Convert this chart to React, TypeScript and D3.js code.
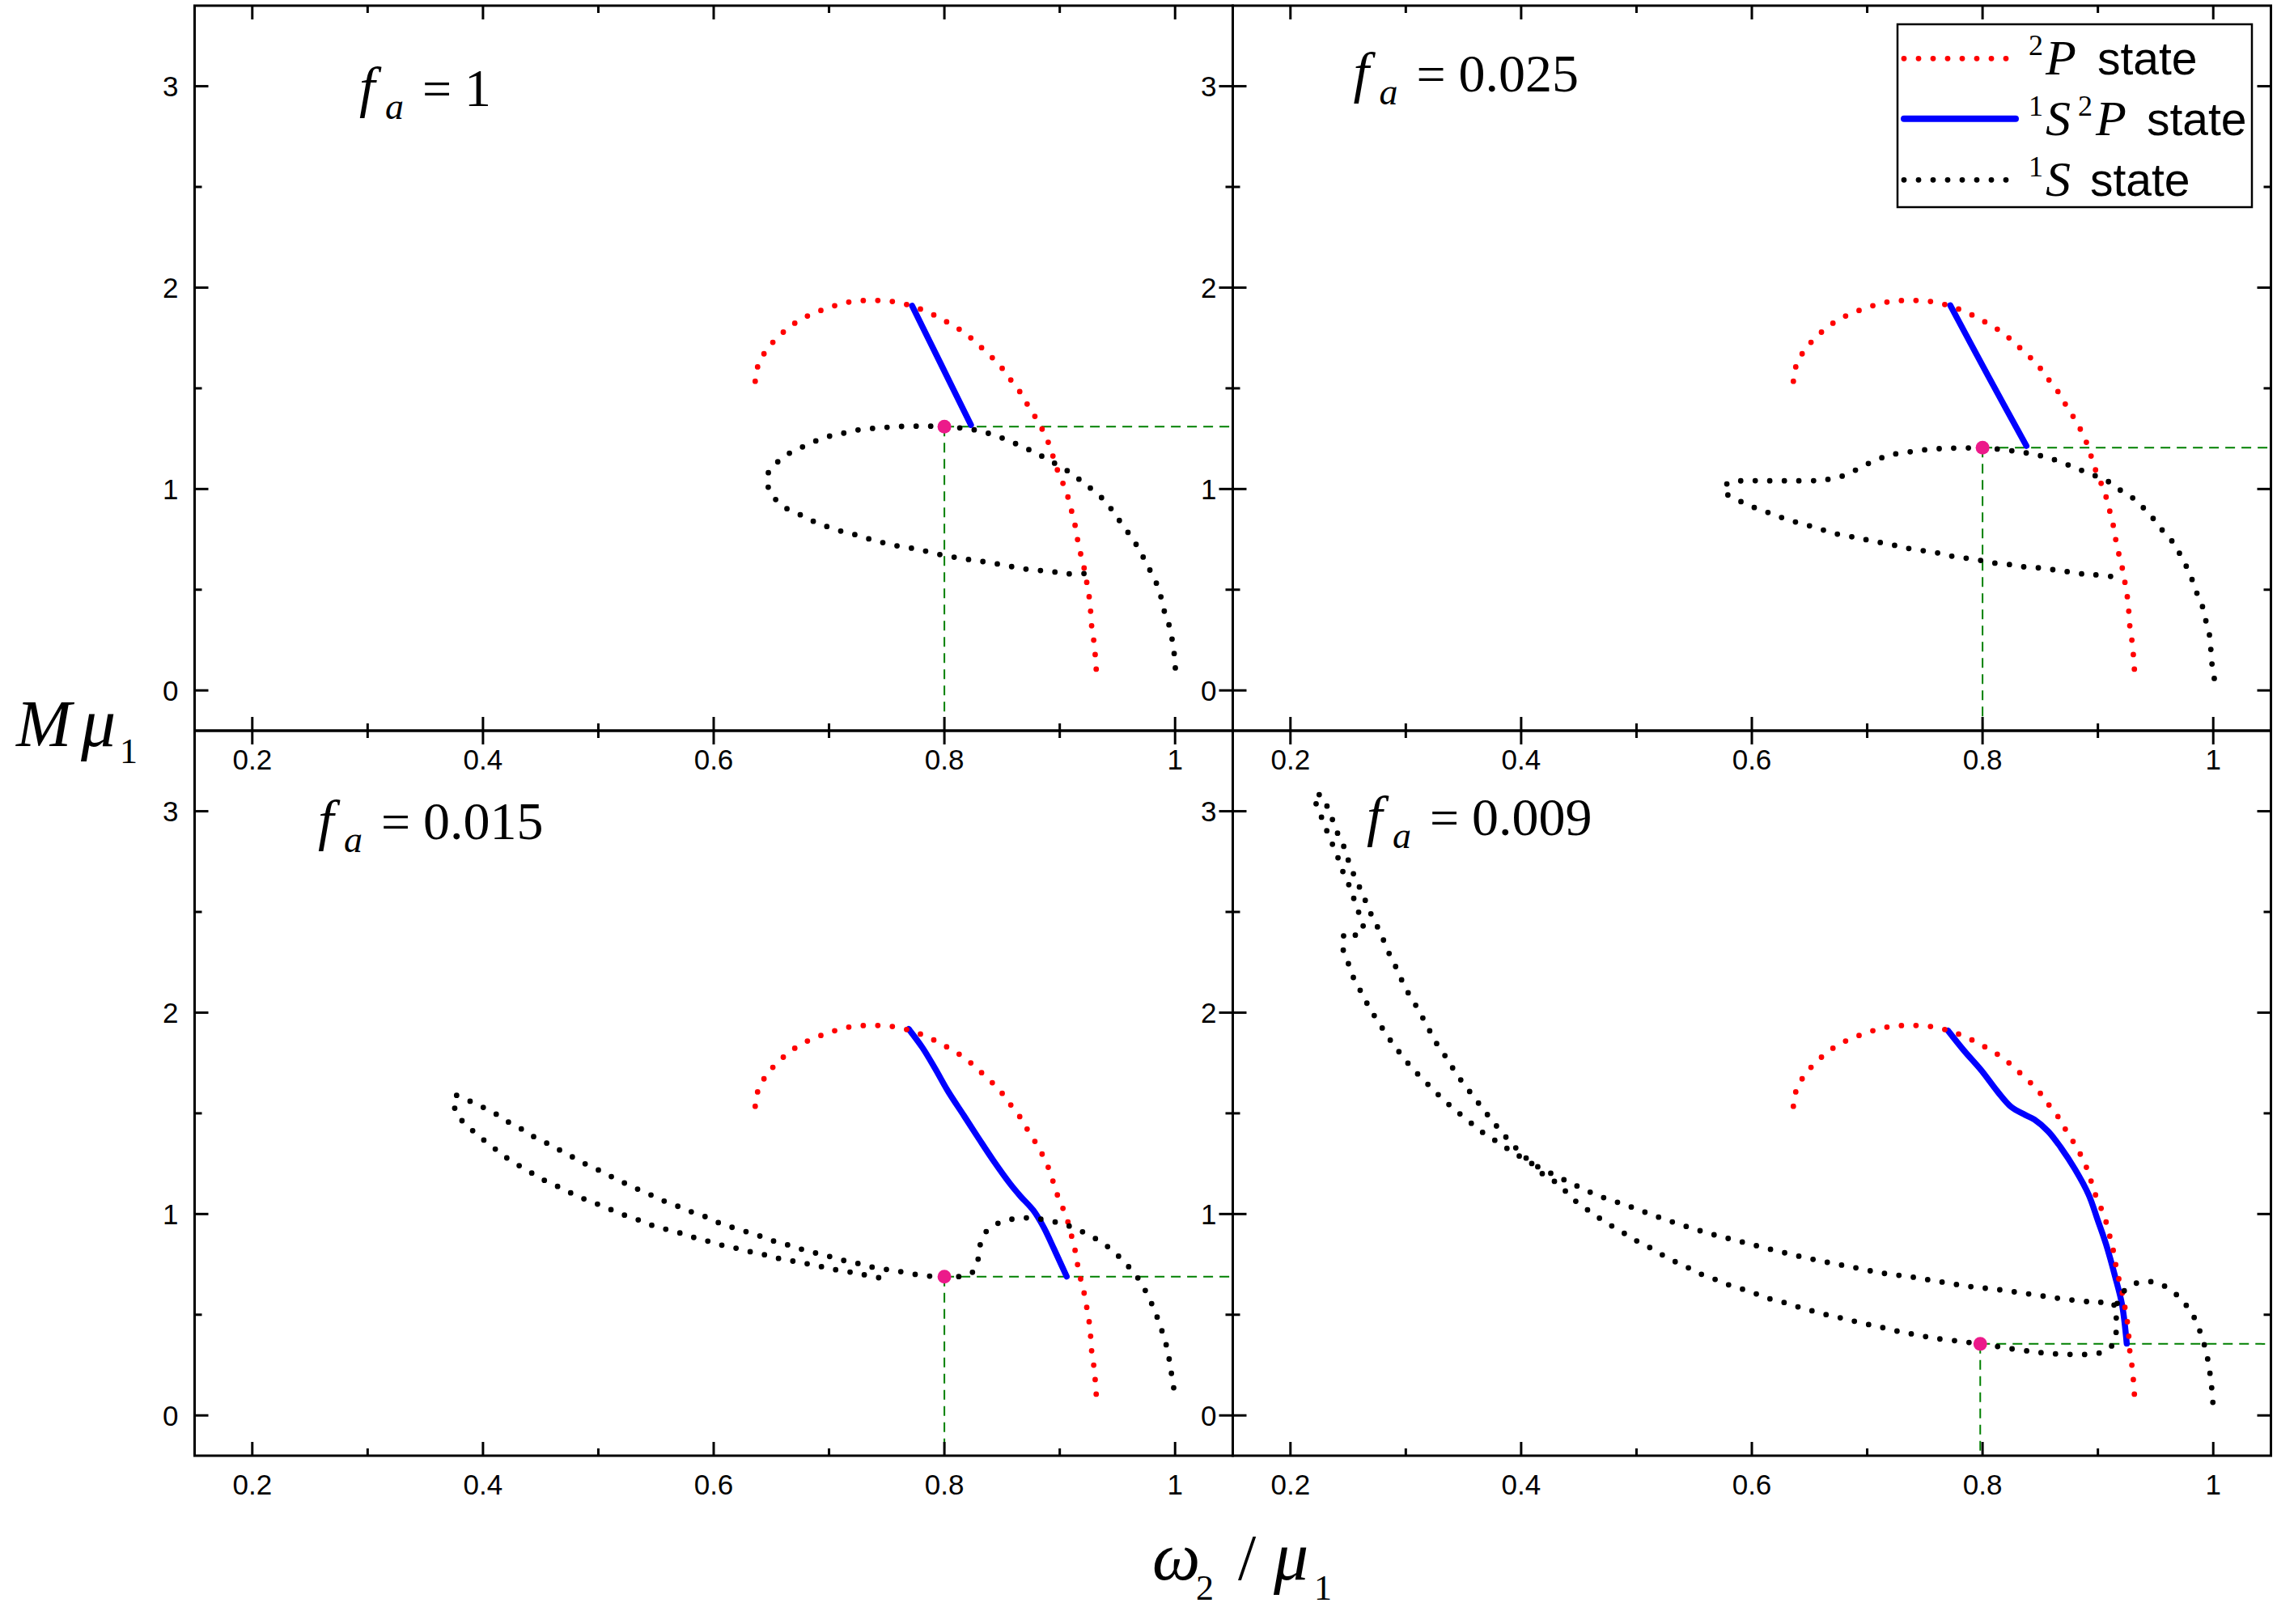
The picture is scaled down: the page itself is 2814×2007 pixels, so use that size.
import React from 'react'
import * as d3 from 'd3'

type Pt = [number, number]

// panel titles, in reading order (top-left, top-right, bottom-left, bottom-right)
const FA_VALUES = ['1', '0.025', '0.015', '0.009']

const X_MAJOR = [0.2, 0.4, 0.6, 0.8, 1]
const X_LABELS = ['0.2', '0.4', '0.6', '0.8', '1']
const X_MINOR = [0.3, 0.5, 0.7, 0.9]
const Y_MAJOR = [0, 1, 2, 3]
const Y_LABELS = ['0', '1', '2', '3']
const Y_MINOR = [0.5, 1.5, 2.5]

// 2P state, same curve in every panel
const STATE_2P: Pt[] = [
  [0.636, 1.535], [0.638, 1.605], [0.644, 1.675], [0.652, 1.733], [0.661, 1.782],
  [0.671, 1.826], [0.682, 1.861], [0.694, 1.889], [0.706, 1.912], [0.718, 1.929],
  [0.73, 1.936], [0.743, 1.936], [0.755, 1.931], [0.768, 1.915], [0.78, 1.892],
  [0.792, 1.861], [0.803, 1.827], [0.814, 1.789], [0.824, 1.745], [0.834, 1.692],
  [0.844, 1.638], [0.852, 1.586], [0.859, 1.53], [0.867, 1.47], [0.873, 1.409],
  [0.88, 1.346], [0.886, 1.283], [0.891, 1.218], [0.895, 1.147], [0.899, 1.078],
  [0.904, 1.011], [0.908, 0.943], [0.911, 0.873], [0.914, 0.801], [0.916, 0.731],
  [0.919, 0.657], [0.922, 0.585], [0.924, 0.515], [0.926, 0.445], [0.927, 0.375],
  [0.928, 0.3], [0.93, 0.228], [0.931, 0.154], [0.932, 0.075],
]

// 1S2P state, one per panel
const MIXED_FA1: Pt[] = [[0.772, 1.91], [0.797, 1.62], [0.823, 1.318]]
const MIXED_FA0025: Pt[] = [[0.772, 1.912], [0.805, 1.56], [0.838, 1.214]]
const MIXED_FA0015: Pt[] = [
  [0.769, 1.919], [0.781, 1.826], [0.792, 1.722], [0.803, 1.611], [0.817, 1.488],
  [0.83, 1.373], [0.843, 1.261], [0.857, 1.15], [0.866, 1.088], [0.877, 1.019],
  [0.886, 0.935], [0.895, 0.827], [0.906, 0.69],
]
const MIXED_FA0009: Pt[] = [
  [0.77, 1.911], [0.784, 1.811], [0.799, 1.713], [0.813, 1.608], [0.825, 1.531],
  [0.837, 1.492], [0.845, 1.469], [0.857, 1.41], [0.868, 1.329], [0.88, 1.224],
  [0.892, 1.096], [0.9, 0.967], [0.907, 0.851], [0.915, 0.688], [0.921, 0.548],
  [0.925, 0.357],
]

// 1S state, one per panel
const SINGLE_FA1: Pt[] = [
  [0.921, 0.58], [0.907, 0.579], [0.894, 0.589], [0.882, 0.596], [0.87, 0.603],
  [0.858, 0.615], [0.845, 0.629], [0.832, 0.641], [0.821, 0.65], [0.808, 0.662],
  [0.795, 0.676], [0.782, 0.694], [0.77, 0.708], [0.757, 0.72], [0.745, 0.736],
  [0.733, 0.755], [0.721, 0.776], [0.709, 0.793], [0.696, 0.818], [0.684, 0.846],
  [0.673, 0.878], [0.661, 0.911], [0.652, 0.96], [0.647, 1.016], [0.648, 1.09],
  [0.658, 1.146], [0.668, 1.186], [0.679, 1.214], [0.69, 1.242], [0.702, 1.265],
  [0.714, 1.279], [0.727, 1.295], [0.74, 1.302], [0.752, 1.307], [0.764, 1.311],
  [0.777, 1.312], [0.789, 1.312], [0.801, 1.309], [0.812, 1.304], [0.823, 1.297],
  [0.834, 1.283], [0.846, 1.262], [0.857, 1.237], [0.868, 1.209], [0.879, 1.18],
  [0.89, 1.145], [0.903, 1.104], [0.914, 1.06], [0.924, 1.016], [0.935, 0.964],
  [0.943, 0.913], [0.95, 0.857], [0.958, 0.794], [0.965, 0.736], [0.971, 0.676],
  [0.977, 0.61], [0.983, 0.543], [0.987, 0.48], [0.99, 0.405], [0.994, 0.34],
  [0.997, 0.266], [0.999, 0.193], [1.0, 0.126], [1.001, 0.056],
]
const SINGLE_FA0025: Pt[] = [
  [0.911, 0.566], [0.896, 0.575], [0.884, 0.58], [0.871, 0.592], [0.859, 0.601],
  [0.846, 0.61], [0.833, 0.615], [0.821, 0.627], [0.808, 0.634], [0.796, 0.648],
  [0.783, 0.659], [0.771, 0.669], [0.759, 0.685], [0.746, 0.696], [0.733, 0.708],
  [0.721, 0.724], [0.708, 0.738], [0.696, 0.752], [0.684, 0.766], [0.671, 0.78],
  [0.659, 0.802], [0.647, 0.822], [0.635, 0.841], [0.623, 0.864], [0.611, 0.89],
  [0.599, 0.915], [0.587, 0.948], [0.575, 0.992], [0.58, 1.032], [0.593, 1.041],
  [0.606, 1.041], [0.618, 1.041], [0.631, 1.041], [0.643, 1.041], [0.657, 1.042],
  [0.668, 1.05], [0.68, 1.067], [0.692, 1.1], [0.703, 1.132], [0.715, 1.16],
  [0.726, 1.176], [0.739, 1.186], [0.752, 1.196], [0.765, 1.201], [0.777, 1.203],
  [0.79, 1.204], [0.8, 1.205], [0.81, 1.2], [0.824, 1.191], [0.838, 1.179],
  [0.849, 1.167], [0.861, 1.148], [0.874, 1.12], [0.886, 1.092], [0.898, 1.065],
  [0.909, 1.037], [0.92, 0.992], [0.932, 0.948], [0.941, 0.897], [0.949, 0.846],
  [0.957, 0.787], [0.965, 0.736], [0.971, 0.678], [0.977, 0.612], [0.982, 0.545],
  [0.986, 0.48], [0.991, 0.41], [0.994, 0.335], [0.997, 0.266], [0.998, 0.196],
  [0.999, 0.126], [1.001, 0.056],
]
const SINGLE_FA0015: Pt[] = [
  [0.743, 0.684], [0.73, 0.699], [0.718, 0.712], [0.705, 0.724], [0.693, 0.739],
  [0.681, 0.753], [0.668, 0.767], [0.655, 0.781], [0.643, 0.799], [0.63, 0.815],
  [0.618, 0.832], [0.606, 0.847], [0.594, 0.867], [0.582, 0.885], [0.57, 0.907],
  [0.557, 0.927], [0.545, 0.947], [0.534, 0.972], [0.522, 0.996], [0.51, 1.024],
  [0.498, 1.052], [0.486, 1.079], [0.475, 1.108], [0.464, 1.139], [0.452, 1.171],
  [0.441, 1.208], [0.43, 1.245], [0.419, 1.285], [0.409, 1.33], [0.398, 1.38],
  [0.388, 1.43], [0.379, 1.483], [0.375, 1.539], [0.376, 1.588], [0.388, 1.562],
  [0.4, 1.53], [0.412, 1.494], [0.422, 1.457], [0.434, 1.42], [0.444, 1.384],
  [0.455, 1.353], [0.467, 1.316], [0.478, 1.282], [0.489, 1.248], [0.501, 1.216],
  [0.512, 1.184], [0.523, 1.153], [0.535, 1.121], [0.547, 1.091], [0.558, 1.062],
  [0.57, 1.036], [0.582, 1.008], [0.594, 0.984], [0.605, 0.955], [0.617, 0.932],
  [0.63, 0.909], [0.642, 0.887], [0.654, 0.862], [0.666, 0.844], [0.678, 0.822],
  [0.69, 0.804], [0.702, 0.787], [0.715, 0.766], [0.727, 0.752], [0.74, 0.733],
  [0.752, 0.723], [0.764, 0.712], [0.777, 0.698], [0.789, 0.691], [0.8, 0.689],
  [0.817, 0.693], [0.826, 0.72], [0.83, 0.799], [0.832, 0.869], [0.839, 0.93],
  [0.851, 0.963], [0.863, 0.978], [0.876, 0.98], [0.888, 0.97], [0.901, 0.953],
  [0.913, 0.93], [0.925, 0.896], [0.936, 0.861], [0.947, 0.812], [0.956, 0.761],
  [0.965, 0.704], [0.972, 0.643], [0.978, 0.576], [0.983, 0.51], [0.987, 0.446],
  [0.991, 0.378], [0.994, 0.307], [0.996, 0.238], [0.998, 0.166], [1.0, 0.092],
]
const SINGLE_FA0009: Pt[] = [
  [0.914, 0.548], [0.913, 0.559], [0.901, 0.562], [0.889, 0.566], [0.864, 0.583],
  [0.839, 0.604], [0.813, 0.625], [0.788, 0.641], [0.763, 0.664], [0.738, 0.688],
  [0.714, 0.706], [0.689, 0.734], [0.664, 0.762], [0.639, 0.793], [0.614, 0.828],
  [0.589, 0.865], [0.564, 0.902], [0.54, 0.944], [0.516, 0.991], [0.492, 1.042],
  [0.467, 1.091], [0.443, 1.154], [0.42, 1.219], [0.411, 1.246], [0.401, 1.296],
  [0.392, 1.349], [0.383, 1.407], [0.375, 1.463], [0.367, 1.521], [0.359, 1.581],
  [0.351, 1.641], [0.343, 1.702], [0.337, 1.762], [0.329, 1.825], [0.323, 1.886],
  [0.317, 1.949], [0.311, 2.014], [0.304, 2.079], [0.298, 2.142], [0.293, 2.208],
  [0.287, 2.275], [0.282, 2.342], [0.277, 2.408], [0.271, 2.475], [0.266, 2.542],
  [0.261, 2.609], [0.256, 2.67], [0.252, 2.729], [0.248, 2.79], [0.245, 2.846],
  [0.24, 2.901], [0.236, 2.965], [0.232, 3.021], [0.227, 3.078], [0.22, 3.078],
  [0.225, 3.004], [0.228, 2.952], [0.233, 2.883], [0.238, 2.814], [0.243, 2.743],
  [0.247, 2.676], [0.252, 2.618], [0.256, 2.547], [0.26, 2.484], [0.263, 2.425],
  [0.259, 2.382], [0.249, 2.402], [0.245, 2.361], [0.246, 2.305], [0.25, 2.247],
  [0.254, 2.181], [0.259, 2.13], [0.263, 2.077], [0.269, 2.023], [0.274, 1.972],
  [0.284, 1.886], [0.29, 1.834], [0.298, 1.779], [0.305, 1.726], [0.314, 1.675],
  [0.323, 1.621], [0.332, 1.572], [0.341, 1.525], [0.35, 1.483], [0.361, 1.431],
  [0.37, 1.391], [0.381, 1.353], [0.391, 1.313], [0.401, 1.279], [0.411, 1.243],
  [0.42, 1.192], [0.431, 1.154], [0.447, 1.065], [0.458, 1.019], [0.468, 0.979],
  [0.479, 0.939], [0.49, 0.902], [0.5, 0.867], [0.512, 0.832], [0.523, 0.795],
  [0.534, 0.762], [0.546, 0.73], [0.557, 0.699], [0.568, 0.676], [0.58, 0.648],
  [0.592, 0.627], [0.605, 0.601], [0.616, 0.578], [0.629, 0.559], [0.641, 0.537],
  [0.653, 0.518], [0.666, 0.498], [0.678, 0.483], [0.69, 0.466], [0.703, 0.449],
  [0.715, 0.434], [0.728, 0.416], [0.74, 0.403], [0.753, 0.389], [0.765, 0.378],
  [0.779, 0.369], [0.79, 0.361], [0.798, 0.355], [0.81, 0.345], [0.826, 0.33],
  [0.843, 0.317], [0.855, 0.309], [0.868, 0.304], [0.88, 0.303], [0.893, 0.304],
  [0.905, 0.317], [0.914, 0.361], [0.916, 0.435], [0.916, 0.505], [0.918, 0.58],
  [0.927, 0.639], [0.938, 0.663], [0.951, 0.659], [0.962, 0.627], [0.973, 0.572],
  [0.98, 0.518], [0.986, 0.458], [0.99, 0.388], [0.994, 0.317], [0.996, 0.247],
  [0.998, 0.177], [0.999, 0.11], [1.0, 0.042],
]

// marked solution on each panel (omega2/mu1, M mu1)
const MARKERS: Pt[] = [[0.8, 1.31], [0.8, 1.205], [0.8, 0.689], [0.798, 0.355]]

const MIXED = [MIXED_FA1, MIXED_FA0025, MIXED_FA0015, MIXED_FA0009]
const SINGLE = [SINGLE_FA1, SINGLE_FA0025, SINGLE_FA0015, SINGLE_FA0009]

const W = 2814
const H = 2007
const LEFT = 240.5
const TOP = 7
const PW = 1283
const PH = 896
const X_DOMAIN: [number, number] = [0.15, 1.05]
const Y_DOMAIN: [number, number] = [-0.2, 3.4]

const SANS = '"Liberation Sans", Arial, sans-serif'
const SERIF = '"Liberation Serif", "Times New Roman", serif'
const RED = '#ff0000'
const BLUE = '#0000ff'
const GREEN = '#008000'
const PINK = '#ec1a8a'
const DOTS = '0 18'

function Panel({ index }: { index: number }) {
  const col = index % 2
  const row = Math.floor(index / 2)
  const x0 = LEFT + col * PW
  const y0 = TOP + row * PH
  const x = d3.scaleLinear().domain(X_DOMAIN).range([x0, x0 + PW])
  const y = d3.scaleLinear().domain(Y_DOMAIN).range([y0 + PH, y0])
  const line = d3
    .line<Pt>()
    .x((d) => x(d[0]))
    .y((d) => y(d[1]))
    .curve(d3.curveCatmullRom.alpha(0.5))
  const mk = MARKERS[index]

  // where each title starts, relative to the panel corner
  const titlePos = [
    [203.5, 123.6],
    [149, 106],
    [152.5, 134],
    [165.5, 129],
  ][index]
  const tx = x0 + titlePos[0]
  const ty = y0 + titlePos[1]

  const tick = (len: number, v: number, axis: 'x' | 'y', key: string) =>
    axis === 'x' ? (
      <g key={key}>
        <line x1={x(v)} x2={x(v)} y1={y0} y2={y0 + len} />
        <line x1={x(v)} x2={x(v)} y1={y0 + PH} y2={y0 + PH - len} />
      </g>
    ) : (
      <g key={key}>
        <line x1={x0} x2={x0 + len} y1={y(v)} y2={y(v)} />
        <line x1={x0 + PW} x2={x0 + PW - len} y1={y(v)} y2={y(v)} />
      </g>
    )

  return (
    <g>
      {/* guide lines through the marked solution */}
      <g stroke={GREEN} strokeWidth={2} strokeDasharray="12 8" fill="none">
        <line x1={x(mk[0])} x2={x0 + PW} y1={y(mk[1])} y2={y(mk[1])} />
        <line x1={x(mk[0])} x2={x(mk[0])} y1={y(mk[1])} y2={y0 + PH} />
      </g>

      <path d={line(MIXED[index]) || ''} fill="none" stroke={BLUE} strokeWidth={7.5} strokeLinecap="round" />
      <path d={line(STATE_2P) || ''} fill="none" stroke={RED} strokeWidth={6.8} strokeLinecap="round" strokeDasharray={DOTS} />
      <path d={line(SINGLE[index]) || ''} fill="none" stroke="#000" strokeWidth={6.8} strokeLinecap="round" strokeDasharray={DOTS} />
      <circle cx={x(mk[0])} cy={y(mk[1])} r={8.5} fill={PINK} />

      {/* frame and inward ticks */}
      <g stroke="#000" strokeWidth={3}>
        {X_MAJOR.map((v, i) => tick(17, v, 'x', 'xm' + i))}
        {X_MINOR.map((v, i) => tick(9, v, 'x', 'xn' + i))}
        {Y_MAJOR.map((v, i) => tick(17, v, 'y', 'ym' + i))}
        {Y_MINOR.map((v, i) => tick(9, v, 'y', 'yn' + i))}
        <rect x={x0} y={y0} width={PW} height={PH} fill="none" />
      </g>

      <g fontFamily={SANS} fontSize={35} fill="#000">
        {X_MAJOR.map((v, i) => (
          <text key={'xl' + i} x={x(v)} y={y0 + PH + 48} textAnchor="middle">
            {X_LABELS[i]}
          </text>
        ))}
        {Y_MAJOR.map((v, i) => (
          <text key={'yl' + i} x={x0 - 20} y={y(v) + 12.5} textAnchor="end">
            {Y_LABELS[i]}
          </text>
        ))}
      </g>

      <g fontFamily={SERIF} fill="#000">
        <text x={tx} y={ty} fontSize={70} fontStyle="italic">f</text>
        <text x={tx + 32} y={ty + 16} fontSize={46} fontStyle="italic">a</text>
        <text x={tx + 78} y={ty} fontSize={64}>=</text>
        <text x={tx + 130} y={ty} fontSize={66}>{FA_VALUES[index]}</text>
      </g>
    </g>
  )
}

function Legend() {
  const lx1 = 2353
  const lx2 = 2485
  const rows = [72.3, 146.7, 222.3]
  const base = [91.7, 166.7, 241.7]
  return (
    <g>
      <rect x={2345} y={30} width={438} height={226} fill="#fff" stroke="#000" strokeWidth={2.5} />
      <line x1={lx1} x2={lx2} y1={rows[0]} y2={rows[0]} stroke={RED} strokeWidth={6.8} strokeLinecap="round" strokeDasharray={DOTS} />
      <line x1={lx1} x2={lx2 + 6} y1={rows[1]} y2={rows[1]} stroke={BLUE} strokeWidth={8} strokeLinecap="round" />
      <line x1={lx1} x2={lx2} y1={rows[2]} y2={rows[2]} stroke="#000" strokeWidth={6.8} strokeLinecap="round" strokeDasharray={DOTS} />
      <g fontFamily={SERIF} fill="#000">
        <text x={2507} y={base[0] - 24} fontSize={36}>2</text>
        <text x={2528} y={base[0]} fontSize={62} fontStyle="italic">P</text>
        <text x={2507} y={base[1] - 24} fontSize={36}>1</text>
        <text x={2528} y={base[1]} fontSize={62} fontStyle="italic">S</text>
        <text x={2568} y={base[1] - 24} fontSize={36}>2</text>
        <text x={2590} y={base[1]} fontSize={62} fontStyle="italic">P</text>
        <text x={2507} y={base[2] - 24} fontSize={36}>1</text>
        <text x={2528} y={base[2]} fontSize={62} fontStyle="italic">S</text>
      </g>
      <g fontFamily={SANS} fontSize={57} fill="#000">
        <text x={2592} y={base[0]}>state</text>
        <text x={2653} y={base[1]}>state</text>
        <text x={2583} y={base[2]}>state</text>
      </g>
    </g>
  )
}

export default function App() {
  return (
    <svg
      width={W}
      height={H}
      viewBox={`0 0 ${W} ${H}`}
      style={{ position: 'absolute', left: 0, top: 0, background: '#fff' }}
    >
      <rect width={W} height={H} fill="#fff" />
      {[0, 1, 2, 3].map((i) => (
        <Panel key={i} index={i} />
      ))}
      <Legend />

      {/* axis titles */}
      <g fontFamily={SERIF} fill="#000">
        <text x={20} y={922} fontSize={82} fontStyle="italic">M</text>
        <text x={100} y={922} fontSize={86} fontStyle="italic">μ</text>
        <text x={148} y={943} fontSize={44}>1</text>

        <text x={1424} y={1952} fontSize={84} fontStyle="italic">ω</text>
        <text x={1478} y={1977} fontSize={44}>2</text>
        <text x={1530} y={1952} fontSize={80}>/</text>
        <text x={1574} y={1952} fontSize={86} fontStyle="italic">μ</text>
        <text x={1624} y={1977} fontSize={44}>1</text>
      </g>
    </svg>
  )
}
